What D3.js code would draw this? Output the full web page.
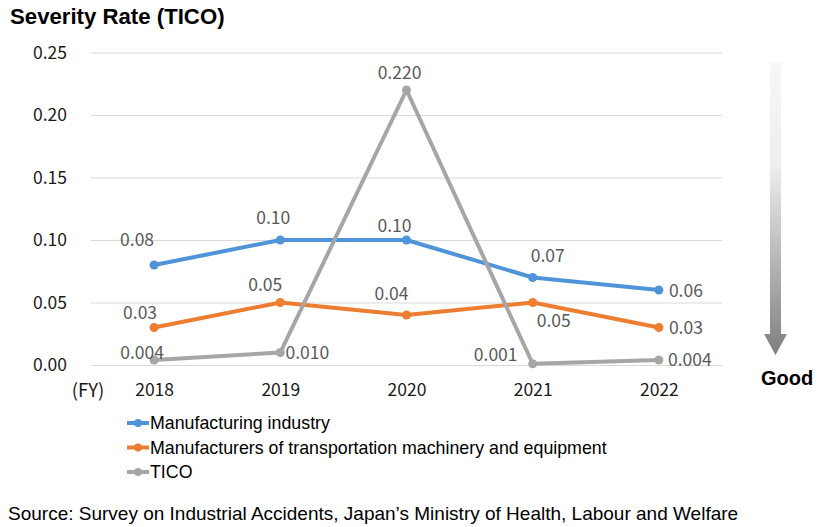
<!DOCTYPE html>
<html>
<head>
<meta charset="utf-8">
<script src="https://cdn.jsdelivr.net/npm/d3@7"></script>
<style>
  body { margin: 0; background: #fff; }
  svg { display: block; }
  .num { font-family: "Noto Sans CJK JP", "Noto Sans", sans-serif; }
  .lat { font-family: "Liberation Sans", Arial, sans-serif; }
</style>
</head>
<body>
<svg id="chart" width="822" height="527"></svg>
<script>
// data
var years = ["2018", "2019", "2020", "2021", "2022"];
var manufacturing = [0.08, 0.10, 0.10, 0.07, 0.06];
var transport = [0.03, 0.05, 0.04, 0.05, 0.03];
var tico = [0.004, 0.010, 0.220, 0.001, 0.004];
var manufacturingLabels = ["0.08", "0.10", "0.10", "0.07", "0.06"];
var transportLabels = ["0.03", "0.05", "0.04", "0.05", "0.03"];
var ticoLabels = ["0.004", "0.010", "0.220", "0.001", "0.004"];
var yTicks = [0, 0.05, 0.10, 0.15, 0.20, 0.25];
var seriesNames = ["Manufacturing industry",
  "Manufacturers of transportation machinery and equipment", "TICO"];

// label placement (offsets from the point, px)
var labelOffsets = [
  [[-17, -25], [-7, -22], [-12, -14], [15, -22], [27, 1]],
  [[-14, -15], [-15, -18], [-15, -21], [21, 18], [27, 0]],
  [[-12, -7], [27, 0], [-7, -17], [-37, -9], [31, 0]]
];
var colors = ["#4f93d8", "#ed7d31", "#a6a6a6"];

var svg = d3.select("#chart");

var x = d3.scalePoint().domain(years).range([91, 722]).padding(0.5);
var y = d3.scaleLinear().domain([0, 0.25]).range([365, 52.5]);

// title
svg.append("text")
  .attr("class", "lat")
  .attr("x", 10).attr("y", 24)
  .style("font-size", "22.2px").style("font-weight", "bold")
  .style("fill", "#000")
  .text("Severity Rate (TICO)");

// y axis + gridlines
var yAxis = svg.append("g")
  .attr("transform", "translate(91,0)")
  .call(d3.axisLeft(y).tickValues(yTicks).tickSize(-631).tickPadding(24)
    .tickFormat(d3.format(".2f")));
yAxis.select(".domain").remove();
yAxis.selectAll("line").style("stroke", "#d9d9d9").style("stroke-width", 1);
yAxis.selectAll("text")
  .attr("class", "num")
  .style("font-size", "17.5px")
  .style("fill", "#1a1a1a");

// x axis
var xAxis = svg.append("g")
  .attr("transform", "translate(0,365)")
  .call(d3.axisBottom(x).tickSize(0).tickPadding(19));
xAxis.select(".domain").remove();
xAxis.selectAll("text")
  .attr("class", "num")
  .style("font-size", "17.5px")
  .style("fill", "#1a1a1a");

svg.append("text")
  .attr("class", "num")
  .attr("x", 88).attr("y", 397)
  .attr("text-anchor", "middle")
  .style("font-size", "18.5px").style("fill", "#1a1a1a")
  .text("(FY)");

// series
var allSeries = [manufacturing, transport, tico];
var allLabels = [manufacturingLabels, transportLabels, ticoLabels];

var line = d3.line()
  .x(function(d, i) { return x(years[i]); })
  .y(function(d) { return y(d); });

allSeries.forEach(function(vals, s) {
  var g = svg.append("g");
  g.append("path")
    .datum(vals)
    .attr("d", line)
    .style("fill", "none")
    .style("stroke", colors[s])
    .style("stroke-width", 4)
    .style("stroke-linejoin", "round");
  g.selectAll("circle")
    .data(vals)
    .enter()
    .append("circle")
      .attr("cx", function(d, i) { return x(years[i]); })
      .attr("cy", function(d) { return y(d); })
      .attr("r", 4.5)
      .style("fill", colors[s]);
});

// data labels
allSeries.forEach(function(vals, s) {
  svg.append("g").selectAll("text")
    .data(vals)
    .enter()
    .append("text")
      .attr("class", "num")
      .attr("x", function(d, i) { return x(years[i]) + labelOffsets[s][i][0]; })
      .attr("y", function(d, i) { return y(d) + labelOffsets[s][i][1]; })
      .attr("dy", "0.35em")
      .attr("text-anchor", "middle")
      .style("font-size", "17.5px")
      .style("fill", "#595959")
      .text(function(d, i) { return allLabels[s][i]; });
});

// "Good" arrow
var defs = svg.append("defs");
var grad = defs.append("linearGradient")
  .attr("id", "arrowGrad")
  .attr("x1", 0).attr("y1", 0).attr("x2", 0).attr("y2", 1);
grad.append("stop").attr("offset", "0%").attr("stop-color", "#f7f7f7");
grad.append("stop").attr("offset", "35%").attr("stop-color", "#eeeeee");
grad.append("stop").attr("offset", "100%").attr("stop-color", "#7f7f7f");

svg.append("path")
  .attr("d", "M770,63 L781,63 L781,334 L787,334 L775.5,355 L764,334 L770,334 Z")
  .style("fill", "url(#arrowGrad)");

svg.append("text")
  .attr("class", "lat")
  .attr("x", 787).attr("y", 378).attr("dy", "0.35em")
  .attr("text-anchor", "middle")
  .style("font-size", "20px").style("font-weight", "bold")
  .style("fill", "#000")
  .text("Good");

// legend
var legend = svg.append("g");
seriesNames.forEach(function(name, i) {
  var ly = 423 + i * 24.5;
  legend.append("line")
    .attr("x1", 127).attr("x2", 149).attr("y1", ly).attr("y2", ly)
    .style("stroke", colors[i]).style("stroke-width", 4);
  legend.append("circle")
    .attr("cx", 138).attr("cy", ly).attr("r", 4)
    .style("fill", colors[i]);
  legend.append("text")
    .attr("class", "lat")
    .attr("x", 150).attr("y", ly).attr("dy", "0.35em")
    .style("font-size", "17.8px").style("fill", "#000")
    .text(name);
});

// source
svg.append("text")
  .attr("class", "lat")
  .attr("x", 8).attr("y", 513).attr("dy", "0.35em")
  .style("font-size", "19px").style("fill", "#000")
  .text("Source: Survey on Industrial Accidents, Japan\u2019s Ministry of Health, Labour and Welfare");
</script>
</body>
</html>
